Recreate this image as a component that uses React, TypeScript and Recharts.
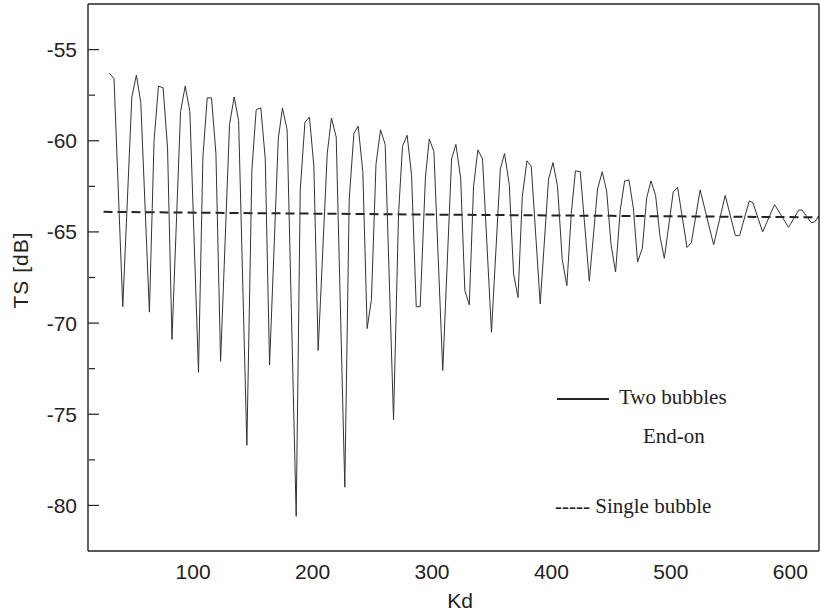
import { Line, LineChart, XAxis, YAxis } from "recharts";

// Two bubbles, end-on: vertices (Kd, TS in dB)
const KD = [
  30.0, 33.8, 41.1, 48.7, 52.5, 56.2, 63.4, 67.3, 71.0, 74.9, 78.6, 82.3,
  89.5, 93.4, 97.3, 104.5, 108.2, 111.8, 115.4, 119.1, 123.0, 130.5, 134.4,
  138.1, 145.0, 149.2, 152.8, 156.7, 160.4, 164.0, 171.3, 174.8, 178.7,
  186.3, 189.7, 193.6, 197.4, 201.1, 204.7, 212.3, 215.8, 219.8, 227.0,
  230.7, 234.6, 238.2, 242.1, 245.7, 249.3, 253.1, 256.9, 260.8, 267.8,
  272.0, 275.3, 279.2, 282.9, 286.8, 290.1, 294.5, 297.7, 301.6, 309.0,
  316.4, 320.0, 324.0, 327.5, 331.2, 334.8, 338.4, 342.3, 349.8, 357.2,
  360.7, 364.7, 368.3, 372.0, 375.6, 379.5, 383.1, 390.6, 397.6, 401.3,
  405.1, 409.0, 412.9, 416.6, 420.1, 424.1, 427.7, 431.7, 438.6, 442.5,
  446.2, 449.9, 453.7, 457.6, 461.3, 464.9, 468.6, 472.1, 476.1, 479.7,
  483.3, 487.2, 490.9, 494.5, 502.0, 505.6, 513.5, 517.1, 524.5, 535.8,
  545.5, 554.0, 557.5, 565.6, 568.7, 576.8, 586.8, 598.5, 607.0, 609.8,
  617.6, 620.4, 623.7,
];
const TS_TWO = [
  -56.3, -56.6, -69.1, -57.6, -56.4, -57.9, -69.4, -60.0, -57.0, -57.1, -60.4,
  -70.9, -58.4, -57.0, -58.4, -72.7, -60.9, -57.65, -57.65, -60.7, -72.1,
  -59.1, -57.6, -58.9, -76.7, -61.6, -58.3, -58.2, -61.0, -72.3, -59.9, -58.2,
  -59.4, -80.6, -62.7, -59.0, -58.7, -61.4, -71.5, -60.7, -58.75, -59.8, -79.0,
  -63.2, -59.6, -59.2, -61.7, -70.3, -68.7, -61.3, -59.4, -60.2, -75.3, -64.0,
  -60.3, -59.7, -61.9, -69.1, -69.1, -62.0, -59.9, -60.6, -72.6, -61.0, -60.2,
  -62.05, -68.2, -69.0, -62.5, -60.5, -61.0, -70.5, -61.55, -60.7, -62.4,
  -67.3, -68.6, -63.05, -61.1, -61.4, -68.95, -62.1, -61.2, -62.5, -66.5,
  -67.95, -64.0, -61.65, -61.7, -64.5, -67.7, -62.65, -61.7, -62.75, -65.7,
  -67.2, -63.8, -62.2, -62.15, -63.7, -66.65, -65.9, -63.15, -62.2, -63.0,
  -65.25, -66.45, -62.8, -62.55, -65.85, -65.6, -62.7, -65.7, -63.0, -65.2,
  -65.2, -63.3, -63.4, -65.0, -63.5, -64.75, -63.8, -63.8, -64.5, -64.45,
  -64.15,
];

// Single bubble (dashed)
const KD_SINGLE = [25, 150, 300, 450, 624];
const TS_SINGLE = [-63.9, -63.97, -64.05, -64.12, -64.2];

const X_TICKS = [100, 200, 300, 400, 500, 600];
const X_MINOR = [50, 150, 250, 350, 450, 550];
const Y_TICKS = [-80, -75, -70, -65, -60, -55];
const Y_MINOR = [-77.5, -72.5, -67.5, -62.5, -57.5];

const X_DOMAIN = [12, 624];
const Y_DOMAIN = [-82.5, -52.5];

const INK = "#222";
const SANS = "'Liberation Sans', Arial, sans-serif";
const SERIF = "'Liberation Serif', 'Times New Roman', serif";

const twoData = KD.map((kd, i) => ({ kd, ts: TS_TWO[i] }));
const singleData = KD_SINGLE.map((kd, i) => ({ kd, ts: TS_SINGLE[i] }));

// tick marks only, no label text
const NoLabel = () => <g />;
const tickMark = { stroke: INK, strokeWidth: 1.2 };

export default function App() {
  return (
    <div style={{ position: "absolute", left: 0, top: 0, width: 820, height: 612 }}>
      <LineChart
        width={820}
        height={612}
        margin={{ top: 3, right: 0, bottom: 0, left: 28 }}
      >
        {/* main axes with labels */}
        <XAxis
          xAxisId="b"
          type="number"
          dataKey="kd"
          domain={X_DOMAIN}
          allowDataOverflow
          ticks={X_TICKS}
          height={61}
          tickLine={false}
          tickSize={0}
          tickMargin={13}
          axisLine={{ stroke: INK, strokeWidth: 1.4 }}
          tick={{ fill: INK, fontSize: 21, fontFamily: SANS }}
        />
        <YAxis
          yAxisId="l"
          type="number"
          domain={Y_DOMAIN}
          allowDataOverflow
          ticks={Y_TICKS}
          width={60}
          tickLine={false}
          tickSize={0}
          tickMargin={11}
          axisLine={{ stroke: INK, strokeWidth: 1.4 }}
          tick={{ fill: INK, fontSize: 21, fontFamily: SANS }}
        />
        {/* inward tick marks */}
        <XAxis
          xAxisId="bMaj"
          type="number"
          domain={X_DOMAIN}
          allowDataOverflow
          ticks={X_TICKS}
          interval={0}
          mirror
          height={1}
          tick={NoLabel}
          tickSize={10}
          axisLine={false}
          tickLine={tickMark}
        />
        <XAxis
          xAxisId="bMin"
          type="number"
          domain={X_DOMAIN}
          allowDataOverflow
          ticks={X_MINOR}
          interval={0}
          mirror
          height={1}
          tick={NoLabel}
          tickSize={5}
          axisLine={false}
          tickLine={tickMark}
        />
        <YAxis
          yAxisId="lMaj"
          type="number"
          domain={Y_DOMAIN}
          allowDataOverflow
          ticks={Y_TICKS}
          interval={0}
          mirror
          width={1}
          tick={NoLabel}
          tickSize={11}
          axisLine={false}
          tickLine={tickMark}
        />
        <YAxis
          yAxisId="lMin"
          type="number"
          domain={Y_DOMAIN}
          allowDataOverflow
          ticks={Y_MINOR}
          interval={0}
          mirror
          width={1}
          tick={NoLabel}
          tickSize={6}
          axisLine={false}
          tickLine={tickMark}
        />
        {/* frame top and right */}
        <XAxis
          xAxisId="t"
          orientation="top"
          type="number"
          domain={X_DOMAIN}
          height={1}
          tick={false}
          tickLine={false}
          axisLine={{ stroke: INK, strokeWidth: 1.4 }}
        />
        <YAxis
          yAxisId="r"
          orientation="right"
          type="number"
          domain={Y_DOMAIN}
          width={1}
          tick={false}
          tickLine={false}
          axisLine={{ stroke: INK, strokeWidth: 1.4 }}
        />

        <Line
          xAxisId="b"
          yAxisId="l"
          data={singleData}
          dataKey="ts"
          type="linear"
          stroke={INK}
          strokeWidth={2}
          strokeDasharray="9 5"
          dot={false}
          activeDot={false}
          isAnimationActive={false}
        />
        <Line
          xAxisId="b"
          yAxisId="l"
          data={twoData}
          dataKey="ts"
          type="linear"
          stroke="#333"
          strokeWidth={1}
          dot={false}
          activeDot={false}
          isAnimationActive={false}
        />
      </LineChart>

      {/* axis titles and legend notes */}
      <svg
        width={820}
        height={612}
        style={{ position: "absolute", left: 0, top: 0, pointerEvents: "none" }}
      >
        <text x={460} y={608} textAnchor="middle" fontSize={21} fontFamily={SANS} fill={INK}>
          Kd
        </text>
        <text
          x={28}
          y={270}
          textAnchor="middle"
          fontSize={21}
          fontFamily={SANS}
          fill={INK}
          letterSpacing={1}
          transform="rotate(-90 28 270)"
        >
          TS [dB]
        </text>
        <line x1={557} y1={399} x2={609} y2={399} stroke={INK} strokeWidth={2} />
        <text x={619} y={404} fontSize={21} fontFamily={SERIF} fill={INK}>
          Two bubbles
        </text>
        <text x={643} y={443} fontSize={21} fontFamily={SERIF} fill={INK}>
          End-on
        </text>
        <text x={555} y={513} fontSize={21} fontFamily={SERIF} fill={INK}>
          ----- Single bubble
        </text>
      </svg>
    </div>
  );
}
